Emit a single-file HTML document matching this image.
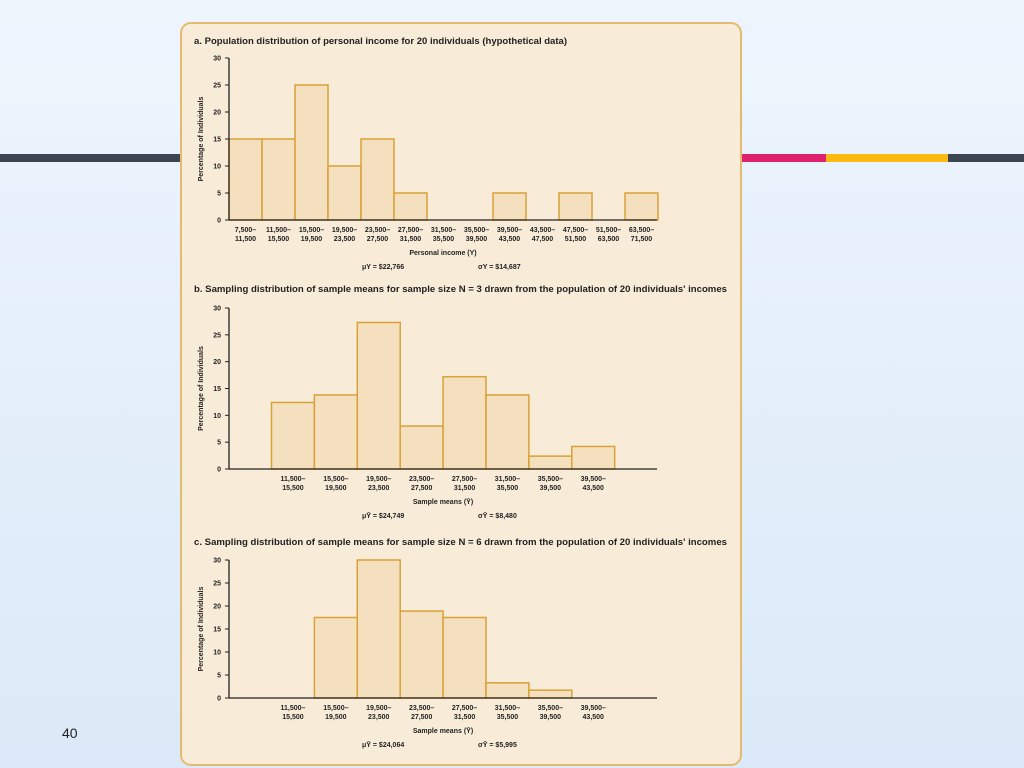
<!DOCTYPE html>
<html><head><meta charset="utf-8"><style>
html,body{margin:0;padding:0;width:1024px;height:768px;overflow:hidden}
body{background:linear-gradient(180deg,#eef5fd 0%,#dbe9f8 100%);font-family:"Liberation Sans",sans-serif;position:relative}
.band{position:absolute;top:154px;height:8px}
</style></head><body>
<div class="band" style="left:0;width:182px;background:#3d4550"></div>
<div class="band" style="left:742px;width:84px;background:#e0226e"></div>
<div class="band" style="left:826px;width:122px;background:#fbb911"></div>
<div class="band" style="left:948px;width:76px;background:#3d4550"></div>
<div style="position:absolute;left:62px;top:725px;font-size:14px;color:#222">40</div>
<svg id="fig" width="1024" height="768" style="position:absolute;left:0;top:0" font-family="Liberation Sans, sans-serif">
<rect x="181" y="23" width="560" height="742" rx="10" fill="#f8ecd9" stroke="#e3bb70" stroke-width="2"/>
<g id="charts"></g>
</svg>
<script>
const catsA=[["7,500–","11,500"],["11,500–","15,500"],["15,500–","19,500"],["19,500–","23,500"],["23,500–","27,500"],["27,500–","31,500"],["31,500–","35,500"],["35,500–","39,500"],["39,500–","43,500"],["43,500–","47,500"],["47,500–","51,500"],["51,500–","63,500"],["63,500–","71,500"]];
const valsA=[15,15,25,10,15,5,0,0,5,0,5,0,5];
const catsB=[["11,500–","15,500"],["15,500–","19,500"],["19,500–","23,500"],["23,500–","27,500"],["27,500–","31,500"],["31,500–","35,500"],["35,500–","39,500"],["39,500–","43,500"]];
const valsB=[12.4,13.8,27.3,8,17.2,13.8,2.4,4.2];
const catsC=catsB;
const valsC=[0,17.5,30,18.9,17.5,3.3,1.7,0];
const yTicks=[0,5,10,15,20,25,30];
const NS="http://www.w3.org/2000/svg";
const g=document.getElementById('charts');
function mk(tag,attrs,txt){const e=document.createElementNS(NS,tag);for(const k in attrs)e.setAttribute(k,attrs[k]);if(txt!==undefined)e.textContent=txt;g.appendChild(e);return e;}
function chart(id,cfg,cats,vals){
  const {y0,y30,x0,xEnd,bx,bw,title,ty,tw,xt,mu,sig}=cfg;
  const ys=v=>y0-(y0-y30)*v/30;
  const xs=i=>bx+i*bw;
  let t=mk('text',{x:194,y:ty,'font-size':9,'font-weight':600,fill:'#222',textLength:tw,lengthAdjust:'spacingAndGlyphs'},title);
  
  vals.forEach((v,i)=>{ if(v<=0)return;
    const r=mk('rect',{x:xs(i),y:ys(v),width:bw,height:y0-ys(v),fill:'#f4e0be',stroke:'#d9a137','stroke-width':1.5});
    });
  let a=mk('line',{x1:x0,y1:y0,x2:xEnd,y2:y0,stroke:'#222','stroke-width':1.3});
  
  a=mk('line',{x1:x0,y1:y30,x2:x0,y2:y0,stroke:'#222','stroke-width':1.3});
  
  yTicks.forEach(v=>{
    let l=mk('line',{x1:x0-4,y1:ys(v),x2:x0,y2:ys(v),stroke:'#222'});
    
    let tt=mk('text',{x:x0-8,y:ys(v)+2.5,'font-size':7,'font-weight':600,'text-anchor':'end',fill:'#222'},v);
    });
  cats.forEach((c,i)=>{
    const cx=xs(i)+bw/2;
    let t1=mk('text',{x:cx,y:y0+12,'font-size':7,'font-weight':600,'text-anchor':'middle',fill:'#222'},c[0]);
    
    let t2=mk('text',{x:cx,y:y0+21,'font-size':7,'font-weight':600,'text-anchor':'middle',fill:'#222'},c[1]);
    });
  const ym=(y0+y30)/2;
  let yt=mk('text',{x:203,y:ym,'font-size':7,'font-weight':'bold','text-anchor':'middle',fill:'#222',transform:`rotate(-90 203 ${ym})`},'Percentage of Individuals');
  
  let xtl=mk('text',{x:443,y:y0+35,'font-size':7,'font-weight':'bold','text-anchor':'middle',fill:'#222'},xt);
  
  let m=mk('text',{x:362,y:y0+49,'font-size':7,'font-weight':600,fill:'#222'},mu);
  
  let s=mk('text',{x:478,y:y0+49,'font-size':7,'font-weight':600,fill:'#222'},sig);
  
}
chart('chart-a',{y0:220,y30:58,x0:229,xEnd:657,bx:229,bw:33,title:'a. Population distribution of personal income for 20 individuals (hypothetical data)',ty:44,tw:373,xt:'Personal income (Y)',mu:'μY = $22,766',sig:'σY = $14,687'},catsA,valsA);
chart('chart-b',{y0:469,y30:308,x0:229,xEnd:657,bx:271.5,bw:42.9,title:'b. Sampling distribution of sample means for sample size N = 3 drawn from the population of 20 individuals\' incomes',ty:292,tw:533,xt:'Sample means (Ȳ)',mu:'μȲ = $24,749',sig:'σȲ = $8,480'},catsB,valsB);
chart('chart-c',{y0:698,y30:560,x0:229,xEnd:657,bx:271.5,bw:42.9,title:'c. Sampling distribution of sample means for sample size N = 6 drawn from the population of 20 individuals\' incomes',ty:545,tw:533,xt:'Sample means (Ȳ)',mu:'μȲ = $24,064',sig:'σȲ = $5,995'},catsC,valsC);
</script>
</body></html>
